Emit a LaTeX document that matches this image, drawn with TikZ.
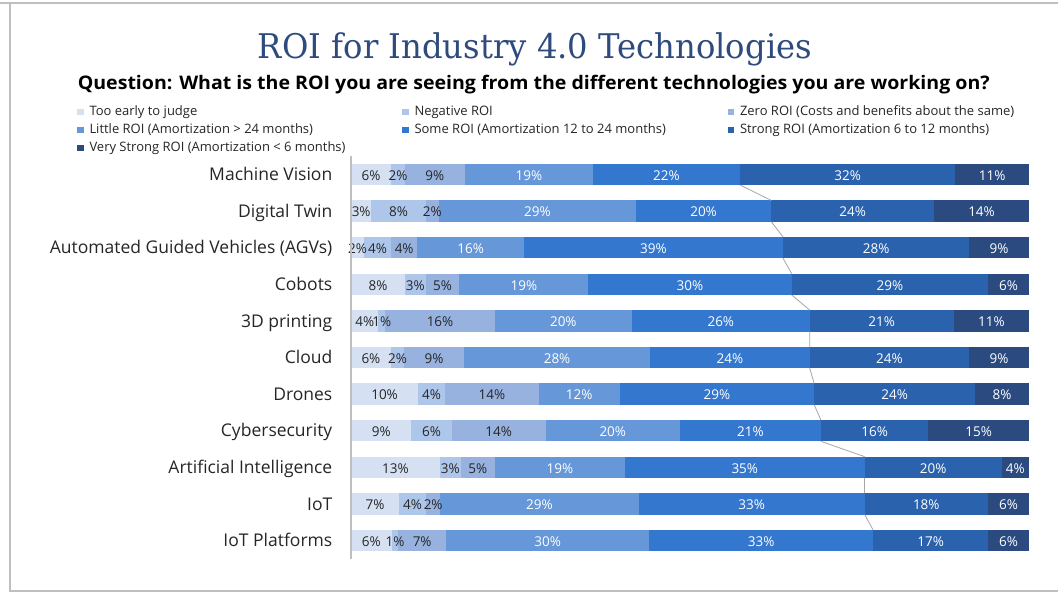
\documentclass[tikz,border=0pt]{standalone}
\usepackage{fontspec}
\setmainfont{Open Sans}
\newfontfamily\titlefont{DejaVu Serif}
\usepackage{graphicx}
\definecolor{s1}{HTML}{D5E1F3}
\definecolor{s2}{HTML}{ADC6EA}
\definecolor{s3}{HTML}{97B2DF}
\definecolor{s4}{HTML}{6597D9}
\definecolor{s5}{HTML}{3477CE}
\definecolor{s6}{HTML}{2B62AD}
\definecolor{s7}{HTML}{2A4A80}
\definecolor{titleblue}{HTML}{2F4B7E}
\definecolor{txtdark}{HTML}{262626}
\definecolor{framegray}{HTML}{BFBFBF}
\definecolor{linegray}{HTML}{A6A6A6}
\colorlet{lab1}{txtdark}
\colorlet{lab2}{txtdark}
\colorlet{lab3}{txtdark}
\colorlet{lab4}{white}
\colorlet{lab5}{white}
\colorlet{lab6}{white}
\colorlet{lab7}{white}
\begin{document}
\begin{tikzpicture}[x=1pt,y=-1pt,
  catlabel/.style={anchor=base east, inner sep=0pt, text=txtdark, font=\fontsize{17.5}{18}\selectfont},
  datalbl/.style={anchor=base, inner sep=0pt, font=\fontsize{13.5}{14}\selectfont},
  legtext/.style={anchor=base west, inner sep=0pt, text=txtdark, font=\fontsize{13}{13}\selectfont},
  legsq/.style={anchor=south west, inner sep=0pt, minimum size=6.5pt},
  frameline/.style={draw=framegray, line width=2pt},
  seriesline/.style={draw=linegray, line width=0.8pt}]
\useasboundingbox (0,0) rectangle (1058,593);
\fill[white] (0,0) rectangle (1058,593);
% frame
\draw[frameline] (0,3) -- (1058,3);
\draw[frameline] (10,3) -- (10,590.5) -- (1058,590.5);
% title
\node[anchor=base, inner sep=0pt, text=titleblue] (title) at (535,58.3)
  {\resizebox{554pt}{\height}{\titlefont\fontsize{34}{36}\selectfont ROI for Industry 4.0 Technologies}};
\node[anchor=base west, inner sep=0pt, text=black] (question) at (77.6,89.3)
  {\resizebox{912pt}{\height}{\bfseries\fontsize{18.7}{20}\selectfont Question: What is the ROI you are seeing from the different technologies you are working on?}};
% legend
\foreach \lx/\ly/\k/\txt [count=\n] in {
  77/115.7/1/{Too early to judge},
  402/115.7/2/{Negative ROI},
  727.5/115.7/3/{Zero ROI (Costs and benefits about the same)},
  77/133.6/4/{Little ROI (Amortization > 24 months)},
  402/133.6/5/{Some ROI (Amortization 12 to 24 months)},
  727.5/133.6/6/{Strong ROI (Amortization 6 to 12 months)},
  77/151.5/7/{Very Strong ROI (Amortization < 6 months)}}{
  \node[legsq, fill=s\k] (legsq\n) at (\lx,\ly) {};
  \node[legtext] (legtxt\n) at (\lx+12.3,\ly) {\txt};
}
% bars
\foreach \i/\name/\vals in {
  0/{Machine Vision}/{6,2,9,19,22,32,11},
  1/{Digital Twin}/{3,8,2,29,20,24,14},
  2/{Automated Guided Vehicles (AGVs)}/{2,4,4,16,39,28,9},
  3/{Cobots}/{8,3,5,19,30,29,6},
  4/{3D printing}/{4,1,16,20,26,21,11},
  5/{Cloud}/{6,2,9,28,24,24,9},
  6/{Drones}/{10,4,14,12,29,24,8},
  7/{Cybersecurity}/{9,6,14,20,21,16,15},
  8/{Artificial Intelligence}/{13,3,5,19,35,20,4},
  9/{IoT}/{7,4,2,29,33,18,6},
  10/{IoT Platforms}/{6,1,7,30,33,17,6}}{
  \pgfmathsetmacro\yc{174.5+36.6*\i}
  \node[catlabel] (cat\i) at (332.5,\yc+6.2) {\name};
  \gdef\tot{0}
  \foreach \v in \vals {\pgfmathsetmacro\t{\tot+\v}\xdef\tot{\t}}
  % segments
  \gdef\cum{0}
  \foreach \v [count=\k] in \vals {
    \pgfmathsetmacro\xa{351+678*(\cum/\tot)}
    \pgfmathsetmacro\c{\cum+\v}
    \pgfmathsetmacro\xb{351+678*(\c/\tot)}
    \xdef\cum{\c}
    \fill[s\k] (\xa,\yc-10.65) rectangle (\xb,\yc+10.65);
    \ifnum\k=5
      \coordinate (bt\i) at (\xb,\yc-10.65);
      \coordinate (bb\i) at (\xb,\yc+10.65);
    \fi
  }
  % data labels on top
  \gdef\cum{0}
  \foreach \v [count=\k] in \vals {
    \pgfmathsetmacro\xa{351+678*(\cum/\tot)}
    \pgfmathsetmacro\c{\cum+\v}
    \pgfmathsetmacro\xb{351+678*(\c/\tot)}
    \xdef\cum{\c}
    \node[datalbl, text=lab\k] (lab\i-\k) at ({(\xa+\xb)/2},\yc+5.8) {\v\%};
  }
}
% series lines
\foreach \i [evaluate=\i as \j using int(\i+1)] in {0,...,9}{
  \draw[seriesline] (bb\i) -- (bt\j);
}
% axis
\draw[draw=framegray, line width=1.3pt] (351,156) -- (351,558.5);
\end{tikzpicture}
\end{document}
